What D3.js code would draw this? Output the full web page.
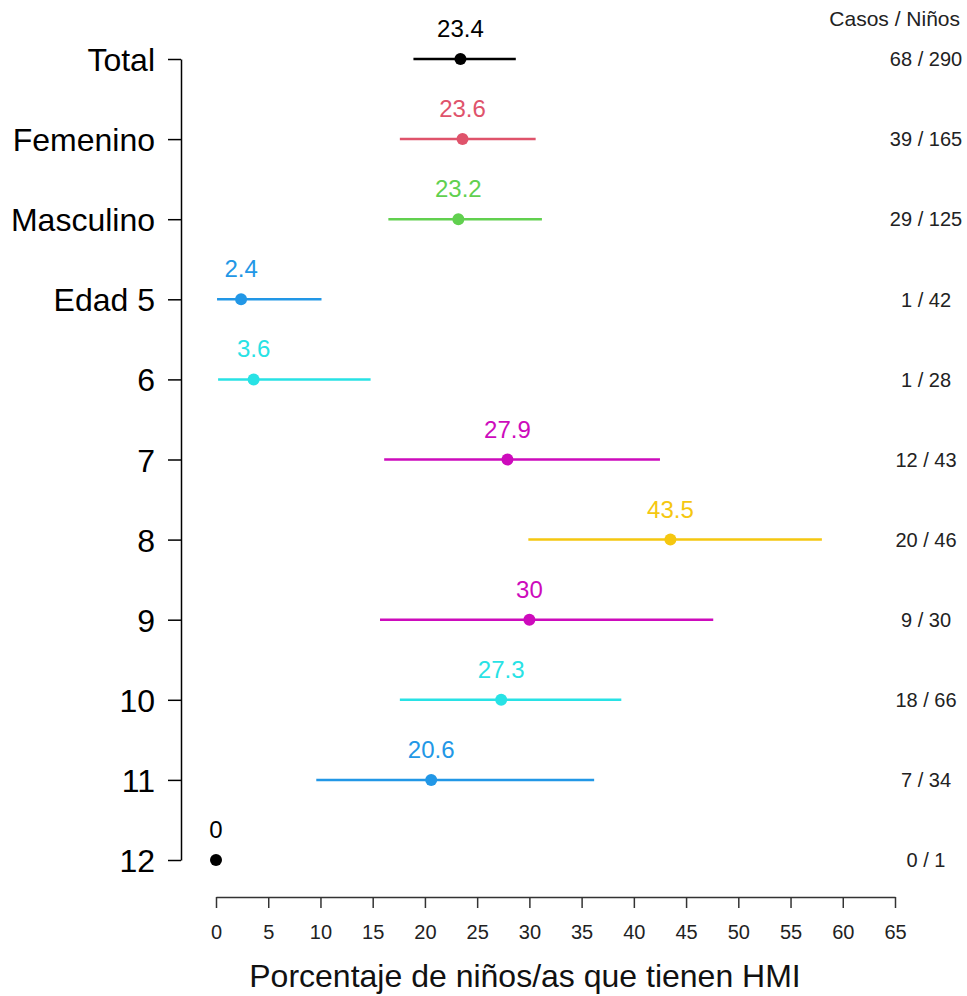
<!DOCTYPE html>
<html>
<head>
<meta charset="utf-8">
<script src="https://cdn.jsdelivr.net/npm/d3@7"></script>
<style>
  body { margin: 0; background: #fff; }
  svg { display: block; font-family: "Liberation Sans", Arial, sans-serif; }
</style>
</head>
<body>
<div id="chart"></div>
<script>
// rows top to bottom
const groups = ["Total", "Femenino", "Masculino", "Edad 5", "6", "7", "8", "9", "10", "11", "12"];
const pct = [23.4, 23.6, 23.2, 2.4, 3.6, 27.9, 43.5, 30, 27.3, 20.6, 0];
const lower = [18.9, 17.6, 16.5, 0.1, 0.2, 16.1, 29.9, 15.7, 17.6, 9.6, 0];
const upper = [28.7, 30.6, 31.2, 10.1, 14.8, 42.5, 58.0, 47.6, 38.8, 36.2, 0];
const counts = ["68 / 290", "39 / 165", "29 / 125", "1 / 42", "1 / 28", "12 / 43", "20 / 46", "9 / 30", "18 / 66", "7 / 34", "0 / 1"];
const colors = ["#000000", "#DF536B", "#61D04F", "#2297E6", "#28E2E5", "#CD0BBC", "#F5C710", "#CD0BBC", "#28E2E5", "#2297E6", "#000000"];
const xTicks = d3.range(0, 70, 5);

const width = 967, height = 996;

const svg = d3.select("#chart")
  .append("svg")
  .attr("width", width)
  .attr("height", height);

const x = d3.scaleLinear().domain([0, 65]).range([216, 895]);
const y = d3.scalePoint().domain(groups).range([59, 860]);

const rows = groups.map((g, i) => ({
  group: g, pct: pct[i], lo: lower[i], hi: upper[i], n: counts[i], color: colors[i]
}));

// y axis
const yAxis = svg.append("g")
  .attr("class", "y-axis")
  .attr("transform", "translate(181,0)")
  .call(d3.axisLeft(y).tickSize(13).tickPadding(13).tickSizeOuter(0));
yAxis.select(".domain").attr("stroke", "#000").attr("stroke-width", 1.5);
yAxis.selectAll(".tick line").attr("stroke", "#000").attr("stroke-width", 1.5);
yAxis.selectAll(".tick text")
  .attr("fill", "#000")
  .attr("font-size", 32)
  .attr("font-family", "'Liberation Sans', Arial, sans-serif")
  .attr("dy", "0.36em");

// x axis
const xAxis = svg.append("g")
  .attr("class", "x-axis")
  .attr("transform", "translate(0,897)")
  .call(d3.axisBottom(x).tickValues(xTicks).tickSize(11).tickPadding(17).tickSizeOuter(0));
xAxis.select(".domain").attr("stroke", "#333").attr("stroke-width", 1.5);
xAxis.selectAll(".tick line").attr("stroke", "#333").attr("stroke-width", 1.5);
xAxis.selectAll(".tick text")
  .attr("fill", "#222")
  .attr("font-size", 20)
  .attr("font-family", "'Liberation Sans', Arial, sans-serif");

svg.append("text")
  .attr("x", 525)
  .attr("y", 987)
  .attr("text-anchor", "middle")
  .attr("font-size", 32)
  .attr("fill", "#111")
  .text("Porcentaje de niños/as que tienen HMI");

// confidence intervals
svg.append("g")
  .selectAll("line")
  .data(rows.filter(d => d.hi > d.lo))
  .join("line")
  .attr("x1", d => x(d.lo))
  .attr("x2", d => x(d.hi))
  .attr("y1", d => y(d.group))
  .attr("y2", d => y(d.group))
  .attr("stroke", d => d.color)
  .attr("stroke-width", 2.5);

// points
svg.append("g")
  .selectAll("circle")
  .data(rows)
  .join("circle")
  .attr("cx", d => x(d.pct))
  .attr("cy", d => y(d.group))
  .attr("r", 6)
  .attr("fill", d => d.color);

// value labels
svg.append("g")
  .selectAll("text")
  .data(rows)
  .join("text")
  .attr("x", d => x(d.pct))
  .attr("y", d => y(d.group) - 22)
  .attr("text-anchor", "middle")
  .attr("font-size", 24)
  .attr("fill", d => d.color)
  .text(d => d.pct);

// counts column
svg.append("text")
  .attr("x", 960)
  .attr("y", 26)
  .attr("text-anchor", "end")
  .attr("font-size", 21)
  .attr("fill", "#222")
  .text("Casos / Niños");

svg.append("g")
  .selectAll("text")
  .data(rows)
  .join("text")
  .attr("x", 926)
  .attr("y", d => y(d.group))
  .attr("dy", "0.36em")
  .attr("text-anchor", "middle")
  .attr("font-size", 20)
  .attr("fill", "#222")
  .text(d => d.n);
</script>
</body>
</html>
